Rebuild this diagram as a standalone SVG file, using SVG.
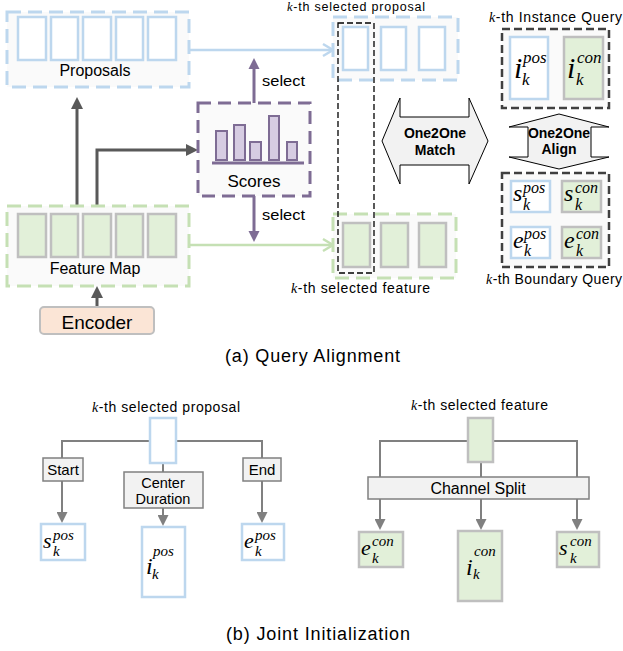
<svg xmlns="http://www.w3.org/2000/svg" width="623" height="651" viewBox="0 0 623 651">
<style>
text{font-family:"Liberation Sans",Arial,sans-serif;fill:#000}
.lbl{font-size:16px;text-anchor:middle}
.sm{font-size:14px}
.kk{font-family:"Liberation Serif","Times New Roman",serif;font-style:italic}
.bold{font-weight:bold;font-size:14px;text-anchor:middle}
.cap{font-size:18px}
.m{font-family:"Liberation Serif","Times New Roman",serif;font-style:italic}
.cb{fill:#FAFAFA;stroke:#BDD7EE;stroke-width:3;stroke-dasharray:14 7}
.cg{fill:#FAFAFA;stroke:#C5E0B4;stroke-width:3;stroke-dasharray:14 7}
.cp{fill:#FAFAFA;stroke:#7E6C94;stroke-width:3;stroke-dasharray:13 7}
.ck{fill:#FAFAFA;stroke:#404040;stroke-width:2.5;stroke-dasharray:8 4}
.bb{fill:#FFFFFF;stroke:#BDD7EE;stroke-width:2.5}
.gb{fill:#E2F0D9;stroke:#BFBFBF;stroke-width:2.5}
.bar{fill:#D6CCE2;stroke:#7E6C94;stroke-width:2}
.gray{fill:#F2F2F2;stroke:#808080;stroke-width:1.5}
.dark{fill:none;stroke:#595959;stroke-width:3;marker-end:url(#ad)}
.pur{fill:none;stroke:#7E6C94;stroke-width:3;marker-end:url(#ap)}
.lb{fill:none;stroke:#BDD7EE;stroke-width:2.5;marker-end:url(#ob)}
.lg{fill:none;stroke:#C5E0B4;stroke-width:2.5;marker-end:url(#og)}
.gl{fill:none;stroke:#808080;stroke-width:2}
.ga{fill:none;stroke:#808080;stroke-width:2;marker-end:url(#ag)}
.dbl{fill:#F2F2F2;stroke:#000;stroke-width:1}
</style>
<defs>
<marker id="ad" viewBox="0 0 12 12" refX="2" refY="6" markerWidth="12" markerHeight="12" markerUnits="userSpaceOnUse" orient="auto"><path d="M0,0 L12,6 L0,12 z" fill="#595959"/></marker>
<marker id="ap" viewBox="0 0 12 12" refX="1" refY="6" markerWidth="12" markerHeight="12" markerUnits="userSpaceOnUse" orient="auto"><path d="M0,0.5 L11,6 L0,11.5 z" fill="#7E6C94"/></marker>
<marker id="ag" viewBox="0 0 11 11" refX="1" refY="5.5" markerWidth="11" markerHeight="11" markerUnits="userSpaceOnUse" orient="auto"><path d="M0,0 L11,5.5 L0,11 z" fill="#808080"/></marker>
<marker id="ob" viewBox="-2 -2 14 16" refX="10" refY="6" markerWidth="14" markerHeight="16" markerUnits="userSpaceOnUse" orient="auto"><path d="M0,0 L10,6 L0,12" fill="none" stroke="#BDD7EE" stroke-width="2.5"/></marker>
<marker id="og" viewBox="-2 -2 14 16" refX="10" refY="6" markerWidth="14" markerHeight="16" markerUnits="userSpaceOnUse" orient="auto"><path d="M0,0 L10,6 L0,12" fill="none" stroke="#C5E0B4" stroke-width="2.5"/></marker>
</defs>
<rect width="623" height="651" fill="#FFFFFF"/>

<g id="connectors">
<path class="dark" d="M77,206 V107"/>
<path class="dark" d="M97,206 V150 H188"/>
<path class="dark" d="M97,307 V296"/>
<path class="pur" d="M254,103 V68"/>
<path class="pur" d="M254,196 V232"/>
<path class="lb" d="M189,50 H333"/>
<path class="lg" d="M189,245 H333"/>
<path class="gl" d="M62,458 V441 H262 V458 M163,463 V472"/>
<path class="ga" d="M62,481 V513"/>
<path class="ga" d="M163,508 V516"/>
<path class="ga" d="M262,481 V513"/>
<path class="gl" d="M380,477 V441 H577 V477 M481,462 V477"/>
<path class="ga" d="M380,499 V520"/>
<path class="ga" d="M481,499 V520"/>
<path class="ga" d="M577,499 V520"/>
</g>

<g id="proposals">
<rect class="cb" x="7" y="12" width="182" height="75"/>
<rect class="bb" x="18" y="17" width="28" height="43"/>
<rect class="bb" x="51" y="17" width="27" height="43"/>
<rect class="bb" x="83" y="17" width="28" height="43"/>
<rect class="bb" x="116" y="17" width="27" height="43"/>
<rect class="bb" x="148" y="17" width="28" height="43"/>
<text class="lbl" x="95" y="76">Proposals</text>
</g>

<g id="feature-map">
<rect class="cg" x="7" y="206" width="182" height="80"/>
<rect class="gb" x="18" y="214" width="28" height="43"/>
<rect class="gb" x="51" y="214" width="27" height="43"/>
<rect class="gb" x="83" y="214" width="28" height="43"/>
<rect class="gb" x="116" y="214" width="27" height="43"/>
<rect class="gb" x="148" y="214" width="28" height="43"/>
<text class="lbl" x="95" y="274">Feature Map</text>
</g>

<g id="encoder">
<rect x="40" y="307" width="114" height="27" rx="4" fill="#FBE5D6" stroke="#BFBFBF" stroke-width="2"/>
<text x="97" y="329" font-size="19" text-anchor="middle">Encoder</text>
</g>

<g id="scores">
<rect class="cp" x="198" y="103" width="112" height="93"/>
<rect class="bar" x="216" y="131" width="11" height="29"/>
<rect class="bar" x="234" y="125" width="11" height="35"/>
<rect class="bar" x="250" y="142" width="11" height="18"/>
<rect class="bar" x="269" y="116" width="10" height="44"/>
<rect class="bar" x="287" y="142" width="10" height="18"/>
<line x1="212" y1="163" x2="304" y2="163" stroke="#7E6C94" stroke-width="3"/>
<text x="254" y="187" font-size="17" text-anchor="middle">Scores</text>
</g>

<g id="select-labels">
<text x="262" y="86" font-size="15" textLength="43" lengthAdjust="spacingAndGlyphs">select</text>
<text x="262" y="220" font-size="15" textLength="43" lengthAdjust="spacingAndGlyphs">select</text>
</g>

<g id="selected-proposal">
<rect class="cb" x="333" y="17" width="125" height="63"/>
<rect class="bb" x="343" y="27" width="25" height="43"/>
<rect class="bb" x="381" y="27" width="25" height="43"/>
<rect class="bb" x="419" y="27" width="26" height="43"/>
<text x="287" y="11" font-size="12.5" textLength="138" lengthAdjust="spacing"><tspan class="kk">k</tspan>-th selected proposal</text>
</g>

<g id="selected-feature">
<rect class="cg" x="333" y="214" width="123" height="64"/>
<rect class="gb" x="343" y="223" width="27" height="44"/>
<rect class="gb" x="381" y="223" width="27" height="44"/>
<rect class="gb" x="419" y="223" width="27" height="44"/>
<text class="sm" x="291" y="293" textLength="139" lengthAdjust="spacing"><tspan class="kk">k</tspan>-th selected feature</text>
</g>

<g id="k-selection">
<rect x="338" y="23" width="36" height="250" fill="none" stroke="#000" stroke-width="1.3" stroke-dasharray="6 3"/>
</g>

<g id="match">
<polygon class="dbl" points="382,141 400,98 400,117 469,117 469,98 488,141 469,184 469,165 400,165 400,184"/>
<text class="bold" x="435" y="138">One2One</text>
<text class="bold" x="435" y="155">Match</text>
</g>

<g id="instance-query">
<rect class="ck" x="502" y="29" width="107" height="79"/>
<rect class="bb" x="510" y="37" width="38" height="62"/>
<rect class="gb" x="564" y="37" width="39" height="62"/>
<text class="m"><tspan x="514" y="78" font-size="30">i</tspan><tspan x="523" y="63" font-size="17">pos</tspan><tspan x="522" y="85" font-size="17">k</tspan></text>
<text class="m"><tspan x="567" y="78" font-size="30">i</tspan><tspan x="577" y="63" font-size="17">con</tspan><tspan x="576" y="85" font-size="17">k</tspan></text>
<text class="sm" x="489" y="22" textLength="133" lengthAdjust="spacing"><tspan class="kk">k</tspan>-th Instance Query</text>
</g>

<g id="align">
<polygon class="dbl" points="559,114 609,127 591,127 591,157 609,157 559,169 509,157 528,157 528,127 509,127"/>
<text class="bold" x="559" y="138">One2One</text>
<text class="bold" x="559" y="154">Align</text>
</g>

<g id="boundary-query">
<rect class="ck" x="502" y="173" width="107" height="94"/>
<rect class="bb" x="511" y="181" width="39" height="31"/>
<rect class="gb" x="562" y="181" width="39" height="31"/>
<rect class="bb" x="511" y="227" width="39" height="31"/>
<rect class="gb" x="562" y="227" width="39" height="31"/>
<text class="m"><tspan x="513" y="201" font-size="24">s</tspan><tspan x="523" y="193" font-size="16">pos</tspan><tspan x="523" y="210" font-size="16">k</tspan></text>
<text class="m"><tspan x="564" y="201" font-size="24">s</tspan><tspan x="575" y="193" font-size="16">con</tspan><tspan x="575" y="210" font-size="16">k</tspan></text>
<text class="m"><tspan x="513" y="248" font-size="24">e</tspan><tspan x="524" y="239" font-size="16">pos</tspan><tspan x="524" y="256" font-size="16">k</tspan></text>
<text class="m"><tspan x="564" y="248" font-size="24">e</tspan><tspan x="576" y="239" font-size="16">con</tspan><tspan x="576" y="256" font-size="16">k</tspan></text>
<text class="sm" x="486" y="284" textLength="136" lengthAdjust="spacing"><tspan class="kk">k</tspan>-th Boundary Query</text>
</g>

<text class="cap" x="225" y="362" textLength="175" lengthAdjust="spacing">(a) Query Alignment</text>

<g id="b-proposal">
<rect class="bb" x="150" y="418" width="26" height="45"/>
<text class="sm" x="92" y="412" textLength="148" lengthAdjust="spacing"><tspan class="kk">k</tspan>-th selected proposal</text>
</g>
<g id="b-start">
<rect class="gray" x="43" y="458" width="40" height="23"/>
<text x="63" y="475" font-size="15" text-anchor="middle">Start</text>
</g>
<g id="b-center">
<rect class="gray" x="124" y="472" width="79" height="36"/>
<text x="163" y="488" font-size="14.5" text-anchor="middle">Center</text>
<text x="163" y="504" font-size="14.5" text-anchor="middle">Duration</text>
</g>
<g id="b-end">
<rect class="gray" x="243" y="458" width="38" height="23"/>
<text x="262" y="475" font-size="15" text-anchor="middle">End</text>
</g>
<g id="b-spos">
<rect class="bb" x="41" y="524" width="44" height="36"/>
<text class="m"><tspan x="43" y="548" font-size="22">s</tspan><tspan x="53" y="540" font-size="15">pos</tspan><tspan x="53" y="556" font-size="15">k</tspan></text>
</g>
<g id="b-ipos">
<rect class="bb" x="142" y="527" width="43" height="70"/>
<text class="m"><tspan x="146" y="574" font-size="24">i</tspan><tspan x="153" y="556" font-size="15">pos</tspan><tspan x="152" y="579" font-size="15">k</tspan></text>
</g>
<g id="b-epos">
<rect class="bb" x="242" y="524" width="42" height="36"/>
<text class="m"><tspan x="244" y="548" font-size="22">e</tspan><tspan x="255" y="540" font-size="15">pos</tspan><tspan x="255" y="556" font-size="15">k</tspan></text>
</g>

<g id="b-feature">
<rect class="gb" x="468" y="418" width="25" height="44"/>
<text class="sm" x="411" y="410" textLength="137" lengthAdjust="spacing"><tspan class="kk">k</tspan>-th selected feature</text>
</g>
<g id="b-split">
<rect class="gray" x="368" y="477" width="221" height="22"/>
<text x="478" y="494" font-size="16" text-anchor="middle">Channel Split</text>
</g>
<g id="b-econ">
<rect class="gb" x="359" y="532" width="44" height="35"/>
<text class="m"><tspan x="361" y="555" font-size="22">e</tspan><tspan x="372" y="546" font-size="15">con</tspan><tspan x="372" y="563" font-size="15">k</tspan></text>
</g>
<g id="b-icon">
<rect class="gb" x="458" y="531" width="44" height="70"/>
<text class="m"><tspan x="466" y="575" font-size="24">i</tspan><tspan x="474" y="556" font-size="15">con</tspan><tspan x="473" y="579" font-size="15">k</tspan></text>
</g>
<g id="b-scon">
<rect class="gb" x="557" y="532" width="42" height="35"/>
<text class="m"><tspan x="559" y="555" font-size="22">s</tspan><tspan x="570" y="546" font-size="15">con</tspan><tspan x="570" y="563" font-size="15">k</tspan></text>
</g>

<text class="cap" x="226" y="640" textLength="184" lengthAdjust="spacing">(b) Joint Initialization</text>
</svg>
